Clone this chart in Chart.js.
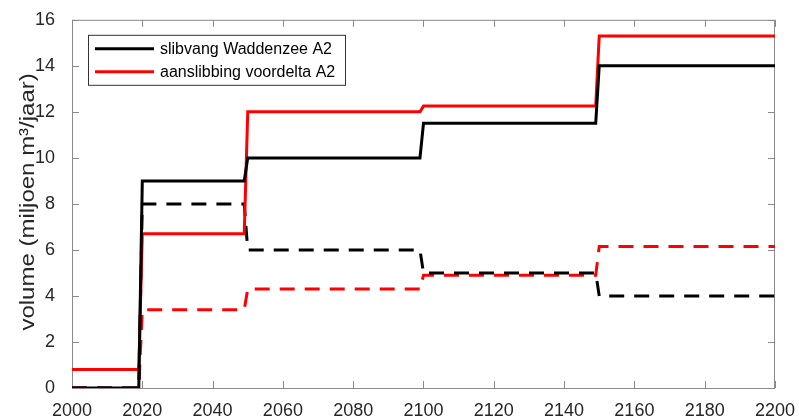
<!DOCTYPE html>
<html>
<head>
<meta charset="utf-8">
<script src="https://cdn.jsdelivr.net/npm/chart.js@4/dist/chart.umd.min.js"></script>
<style>
  html, body { margin: 0; padding: 0; background: #fff; }
  #wrap { width: 799px; height: 418px; }
</style>
</head>
<body>
<div id="wrap"><canvas id="chart" width="799" height="418"></canvas></div>
<script>
// step corners: each period starts one year after the previous one ends
const years = [2000, 2019, 2020, 2049, 2050, 2099, 2100, 2149, 2150, 2200];

const slibvangA2 = [0, 0, 9, 9, 10, 10, 11.5, 11.5, 14, 14];
const aanslibbingA2 = [0.8, 0.8, 6.7, 6.7, 12, 12, 12.25, 12.25, 15.3, 15.3];
const slibvangDashed = [0, 0, 8, 8, 6, 6, 5, 5, 4, 4];
const aanslibbingDashed = [0, 0, 3.4, 3.4, 4.3, 4.3, 4.9, 4.9, 6.15, 6.15];

const xTicks = [2000, 2020, 2040, 2060, 2080, 2100, 2120, 2140, 2160, 2180, 2200];
const yTicks = [0, 2, 4, 6, 8, 10, 12, 14, 16];
const yTitle = 'volume (miljoen m³/jaar)';

function toPoints(vals) {
    return years.map((y, i) => ({x: y, y: vals[i]}));
}

const fontFam = '"Liberation Sans", Arial, sans-serif';
const axisGrey = '#262626';

//matlab-like box with inward ticks on all four sides
const boxPlugin = {
    id: 'box',
    beforeDatasetsDraw(chart) {
        const {ctx, chartArea: a, scales} = chart;
        ctx.save();
        ctx.strokeStyle = '#8a8a8a';
        ctx.lineWidth = 1;
        ctx.strokeRect(a.left + 0.5, a.top + 0.5, a.right - a.left - 1, a.bottom - a.top);
        ctx.beginPath();
        xTicks.forEach(t => {
            const px = Math.round(scales.x.getPixelForValue(t)) + 0.5;
            ctx.moveTo(px, a.bottom); ctx.lineTo(px, a.bottom - 7);
            ctx.moveTo(px, a.top); ctx.lineTo(px, a.top + 7);
        });
        yTicks.forEach(t => {
            const py = Math.round(scales.y.getPixelForValue(t)) + 0.5;
            ctx.moveTo(a.left, py); ctx.lineTo(a.left + 7, py);
            ctx.moveTo(a.right, py); ctx.lineTo(a.right - 7, py);
        });
        ctx.stroke();
        ctx.restore();
    },
    afterDraw(chart) {
        const {ctx, chartArea: a} = chart;
        //y title, stretched a bit along its length like the original
        ctx.save();
        ctx.translate(34, (a.top + a.bottom) / 2 - 2);
        ctx.rotate(-Math.PI / 2);
        ctx.scale(1.2, 1);
        ctx.font = '20px ' + fontFam;
        ctx.fillStyle = axisGrey;
        ctx.textAlign = 'center';
        ctx.textBaseline = 'alphabetic';
        ctx.fillText(yTitle, 0, 0);
        ctx.restore();

        //legend box inside the axes, only the two solid series
        const sets = chart.data.datasets.filter(d => !d.borderDash);
        const x0 = a.left + 16, y0 = a.top + 15, w = 257, h = 50;
        ctx.save();
        ctx.fillStyle = '#fff';
        ctx.fillRect(x0, y0, w, h);
        ctx.strokeStyle = '#333';
        ctx.lineWidth = 1;
        ctx.strokeRect(x0 + 0.5, y0 + 0.5, w, h);
        ctx.font = '16px ' + fontFam;
        ctx.textBaseline = 'middle';
        sets.forEach((d, i) => {
            const yy = y0 + 14 + i * 23;
            ctx.strokeStyle = d.borderColor;
            ctx.lineWidth = 3;
            ctx.beginPath();
            ctx.moveTo(x0 + 7, yy); ctx.lineTo(x0 + 66, yy);
            ctx.stroke();
            ctx.fillStyle = '#000';
            ctx.fillText(d.label, x0 + 72, yy + 1);
        });
        ctx.restore();
    }
};

const lineStyle = {fill: false, pointRadius: 0, borderWidth: 3, tension: 0, borderJoinStyle: 'miter'};

new Chart(document.getElementById('chart'), {
    type: 'line',
    data: {
        datasets: [
            Object.assign({label: 'slibvang Waddenzee A2', data: toPoints(slibvangA2), borderColor: '#000000'}, lineStyle),
            Object.assign({label: 'aanslibbing voordelta A2', data: toPoints(aanslibbingA2), borderColor: '#ff0000'}, lineStyle),
            Object.assign({label: 'slibvang gestreept', data: toPoints(slibvangDashed), borderColor: '#000000', borderDash: [15, 10]}, lineStyle),
            Object.assign({label: 'aanslibbing gestreept', data: toPoints(aanslibbingDashed), borderColor: '#ff0000', borderDash: [15, 10]}, lineStyle)
        ]
    },
    options: {
        responsive: false,
        animation: false,
        layout: {padding: {top: 18, right: 23, left: 0, bottom: 0}},
        plugins: {legend: {display: false}, tooltip: {enabled: false}},
        scales: {
            x: {
                type: 'linear', min: 2000, max: 2200,
                afterBuildTicks: s => { s.ticks = xTicks.map(v => ({value: v})); },
                grid: {display: false},
                border: {display: false},
                ticks: {color: axisGrey, font: {family: fontFam, size: 18}, padding: 4, maxRotation: 0, callback: v => String(v)},
                afterFit: s => { s.height = 30; }
            },
            y: {
                min: 0, max: 16,
                afterBuildTicks: s => { s.ticks = yTicks.map(v => ({value: v})); },
                grid: {display: false},
                border: {display: false},
                ticks: {color: axisGrey, font: {family: fontFam, size: 18}, padding: 9},
                afterFit: s => { s.width = 72; }
            }
        }
    },
    plugins: [boxPlugin]
});
</script>
</body>
</html>
